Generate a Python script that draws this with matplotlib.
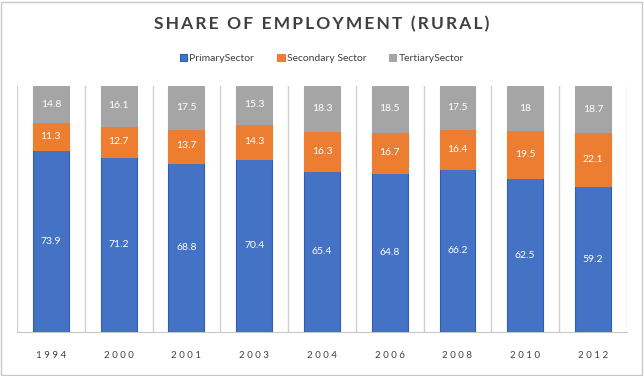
import numpy as np
import matplotlib.pyplot as plt

plt.rcParams['font.family'] = ['Lato', 'DejaVu Sans']

years = ['1994', '2000', '2001', '2003', '2004', '2006', '2008', '2010', '2012']
primary = [73.9, 71.2, 68.8, 70.4, 65.4, 64.8, 66.2, 62.5, 59.2]
secondary = [11.3, 12.7, 13.7, 14.3, 16.3, 16.7, 16.4, 19.5, 22.1]
tertiary = [14.8, 16.1, 17.5, 15.3, 18.3, 18.5, 17.5, 18, 18.7]

series = [
  ('PrimarySector', primary, '#4472C4', '#2F5CB8'),
  ('Secondary Sector', secondary, '#ED7D31', '#ED7D31'),
  ('TertiarySector', tertiary, '#A5A5A5', '#A5A5A5'),
]

fig = plt.figure(figsize=(6.44, 3.76), dpi=100)
ax = fig.add_axes([0.0264, 0.117, 0.947, 0.654])

x = np.arange(len(years))
bottom = np.zeros(len(years))
handles = []
for name, vals, color, edge in series:
  vals = np.array(vals, dtype=float)
  bars = ax.bar(x, vals, 0.53, bottom=bottom, color=color, edgecolor=edge,
                linewidth=0.8, label=name, zorder=3)
  handles.append(bars)
  for xi, b, v in zip(x, bottom, vals):
    ax.text(xi, b + v / 2, f'{v:g}', ha='center', va='center',
            color='white', fontsize=7.5, zorder=4)
  bottom += vals

for b in np.arange(-0.5, len(years), 1.0):
  ax.axvline(b, color='#D0D0D0', linewidth=1, zorder=1)

ax.set_xlim(-0.5, len(years) - 0.5)
ax.set_ylim(0, 100)
ax.set_yticks([])
ax.set_xticks(x)
ax.set_xticklabels([' '.join(y) for y in years], fontsize=7, color='#404040')
ax.tick_params(axis='x', length=0, pad=14)
for s in ['top', 'left', 'right']:
  ax.spines[s].set_visible(False)
ax.spines['bottom'].set_color('#C8C8C8')

fig.text(0.5, 0.935, '\u2009'.join('SHARE OF EMPLOYMENT (RURAL)').replace('\u2009 \u2009', '  '),
         ha='center', va='center', fontsize=12.5, color='#404040', fontweight='bold')

fig.legend(handles=handles, loc='center', bbox_to_anchor=(0.5, 0.845), ncol=3,
           frameon=False, fontsize=7.5, handlelength=0.7, handleheight=0.7,
           handletextpad=0.2, columnspacing=2.2, labelcolor='#404040')

fig.patches.append(plt.Rectangle((0.002, 0.003), 0.995, 0.993, transform=fig.transFigure,
                                 fill=False, edgecolor='#C8C8C8', linewidth=1))

plt.savefig('out.png', dpi=100)
